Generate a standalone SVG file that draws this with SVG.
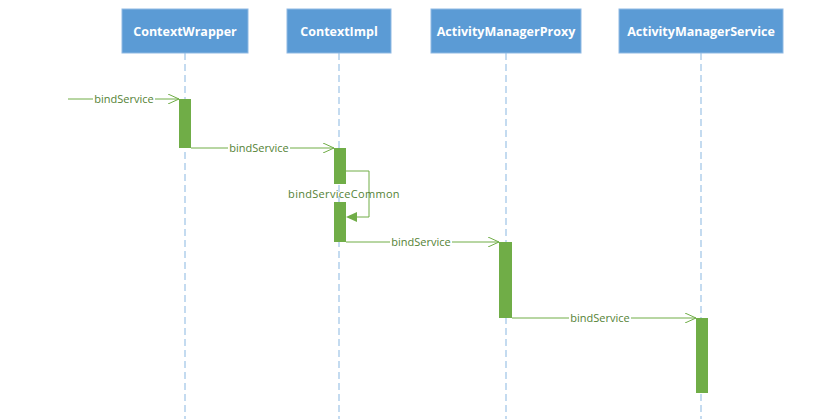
<svg xmlns="http://www.w3.org/2000/svg" width="815" height="419" viewBox="0 0 815 419">
<defs>
<style>
.box{fill:#5B9BD5;stroke:#8FB9E3;stroke-width:1}
.title{font-family:"Open Sans","Liberation Sans",sans-serif;font-size:12.5px;font-weight:bold;fill:#FFFFFF;text-anchor:middle}
.life{stroke:#9DC3E6;stroke-width:1.2;stroke-dasharray:7 4;fill:none}
.act{fill:#70AD47}
.msg{stroke:#70AD47;stroke-width:1;fill:none}
.lbl{font-family:"Open Sans","Liberation Sans",sans-serif;font-size:11px;fill:#548235;text-anchor:middle}
.bg{fill:#FFFFFF}
</style>
<marker id="open" markerWidth="12" markerHeight="10" refX="11" refY="5" orient="auto" markerUnits="userSpaceOnUse">
<path d="M0,0 L11,5 L0,10" fill="none" stroke="#70AD47" stroke-width="1"/>
</marker>
</defs>
<rect width="815" height="419" fill="#FFFFFF"/>
<g id="lifelines">
<line class="life" x1="185" y1="53" x2="185" y2="419"/>
<line class="life" x1="339" y1="53" x2="339" y2="419"/>
<line class="life" x1="506" y1="53" x2="506" y2="419"/>
<line class="life" x1="701" y1="53" x2="701" y2="419"/>
</g>
<g id="ContextWrapper">
<rect class="box" x="122" y="9" width="126" height="44"/>
<text class="title" x="185" y="36">ContextWrapper</text>
</g>
<g id="ContextImpl">
<rect class="box" x="287" y="9" width="104" height="44"/>
<text class="title" x="339" y="36">ContextImpl</text>
</g>
<g id="ActivityManagerProxy">
<rect class="box" x="431" y="9" width="150" height="44"/>
<text class="title" x="506" y="36">ActivityManagerProxy</text>
</g>
<g id="ActivityManagerService">
<rect class="box" x="619" y="9" width="164" height="44"/>
<text class="title" x="701" y="36">ActivityManagerService</text>
</g>
<g id="activations">
<rect class="act" x="179" y="99" width="12" height="49"/>
<rect class="act" x="334" y="148" width="12" height="36"/>
<rect class="act" x="334" y="202" width="12" height="40"/>
<rect class="act" x="499" y="242" width="13" height="76"/>
<rect class="act" x="696" y="318" width="12" height="75"/>
</g>
<g id="connectors">
<line class="msg" x1="68" y1="99" x2="179" y2="99" marker-end="url(#open)"/>
<rect class="bg" x="93" y="92" width="62" height="14"/>
<text class="lbl" x="124" y="103">bindService</text>
<line class="msg" x1="191" y1="148" x2="334" y2="148" marker-end="url(#open)"/>
<rect class="bg" x="228" y="141" width="62" height="14"/>
<text class="lbl" x="259" y="152">bindService</text>
<path class="msg" d="M346,171 H369 V217 H357"/>
<path d="M357,212 L346,217 L357,222 Z" fill="#70AD47"/>
<text class="lbl" x="344" y="198" style="letter-spacing:0.3px">bindServiceCommon</text>
<line class="msg" x1="346" y1="242" x2="499" y2="242" marker-end="url(#open)"/>
<rect class="bg" x="390" y="235" width="62" height="14"/>
<text class="lbl" x="421" y="246">bindService</text>
<line class="msg" x1="512" y1="318" x2="696" y2="318" marker-end="url(#open)"/>
<rect class="bg" x="569" y="311" width="62" height="14"/>
<text class="lbl" x="600" y="322">bindService</text>
</g>
</svg>
